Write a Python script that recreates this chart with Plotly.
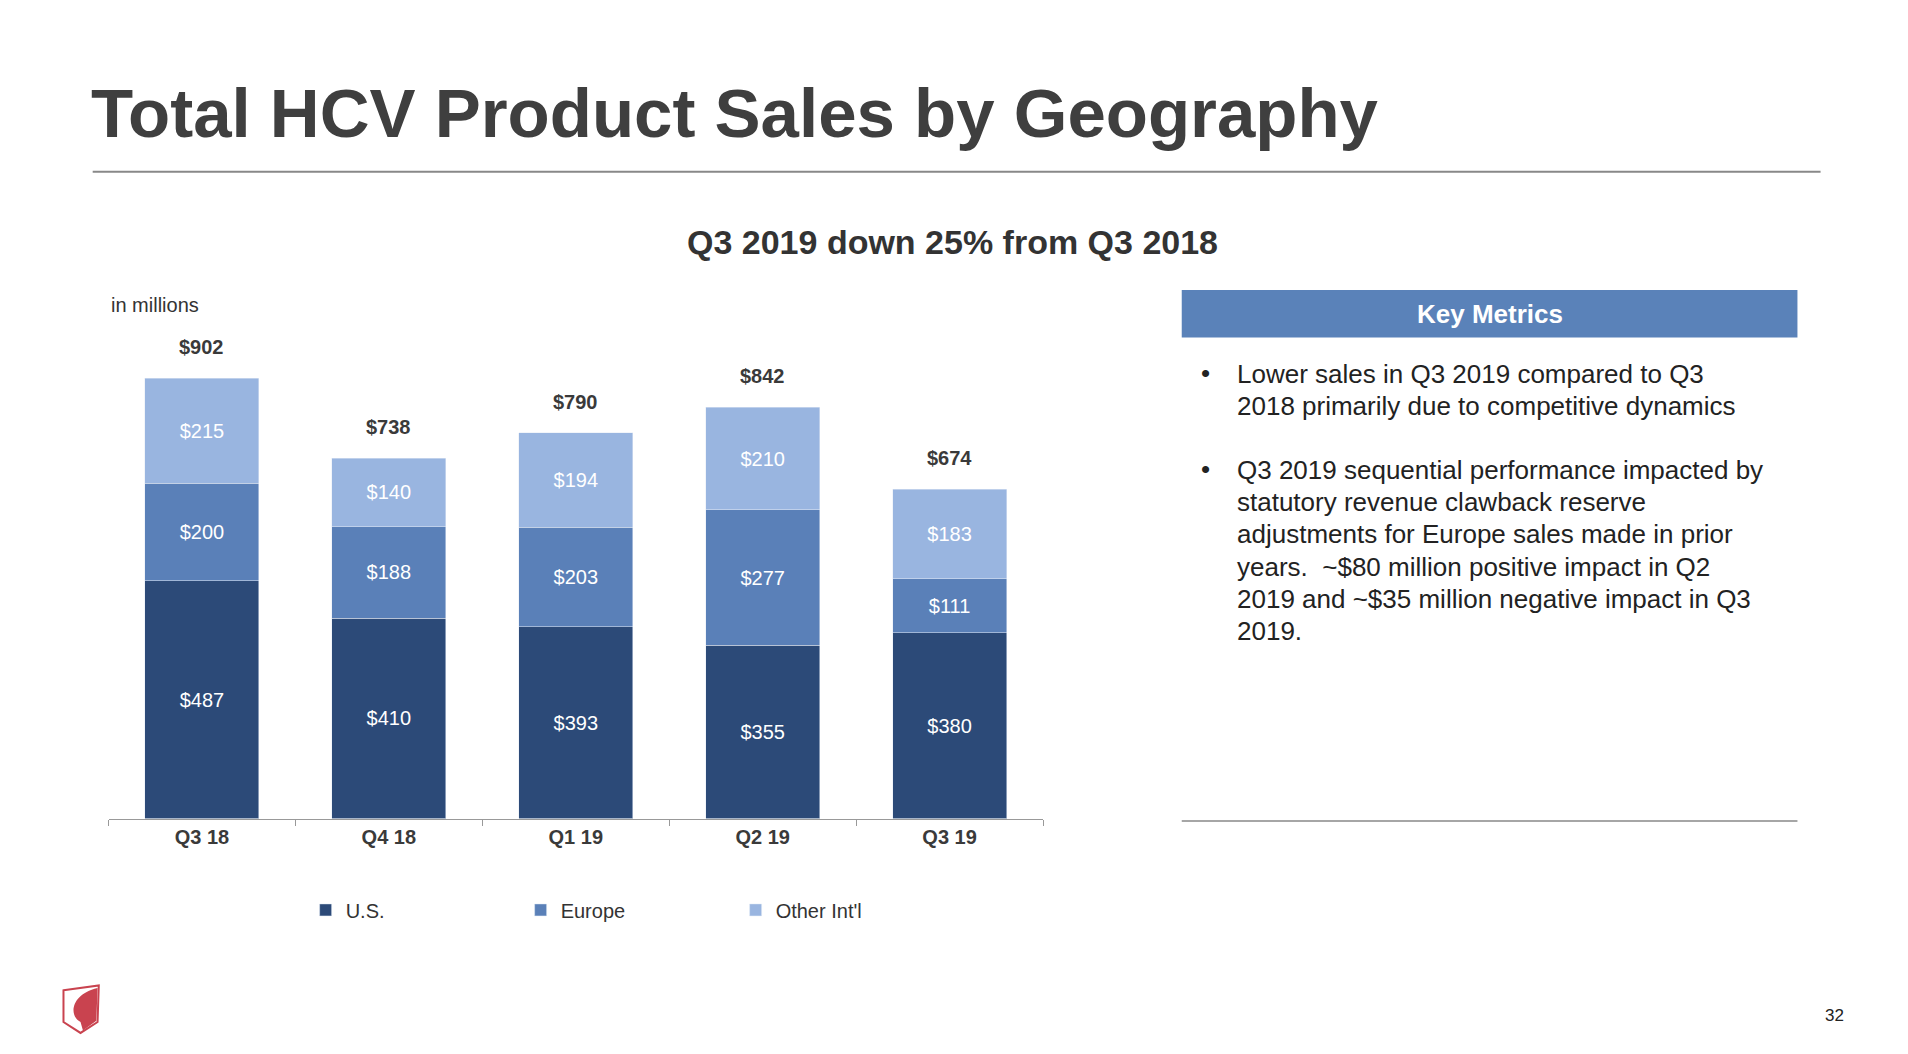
import plotly.graph_objects as go

W, H = 1908, 1054
S = 1.21  # reference-picture units to pixels
quarters = ["Q3 18", "Q4 18", "Q1 19", "Q2 19", "Q3 19"]
us = [487, 410, 393, 355, 380]
europe = [200, 188, 203, 277, 111]
other = [215, 140, 194, 210, 183]
totals = [902, 738, 790, 842, 674]
colors = {"U.S.": "#2c4a78", "Europe": "#5a80b8", "Other Int'l": "#99b5e0"}
bullet1 = ["Lower sales in Q3 2019 compared to Q3", "2018 primarily due to competitive dynamics"]
bullet2 = ["Q3 2019 sequential performance impacted by", "statutory revenue clawback reserve",
           "adjustments for Europe sales made in prior", "years.  ~$80 million positive impact in Q2",
           "2019 and ~$35 million negative impact in Q3", "2019."]

def px(x): return (x - 6.4) / 0.9944 * S / W
def py(y): return 1 - (y - 5.6) / 0.9933 * S / H

fig = go.Figure()
for name, vals in [("U.S.", us), ("Europe", europe), ("Other Int'l", other)]:
    fig.add_bar(x=quarters, y=vals, name=name, marker_color=colors[name],
                text=[f"${v}" for v in vals], textposition="inside", insidetextanchor="middle",
                textfont=dict(color="white", size=20, family="Liberation Sans"))

fig.update_layout(
    width=W, height=H, margin=dict(l=0, r=0, t=0, b=0), barmode="stack", bargap=0.39,
    plot_bgcolor="white", paper_bgcolor="white", font=dict(family="Liberation Sans", color="#333"),
    xaxis=dict(domain=[px(89), px(857)], showline=True, linecolor="#999", ticks="outside",
               ticklen=6, tickcolor="#999", tickson="boundaries",
               tickfont=dict(size=20, color="#3a3a3a"), tickprefix="<b>", ticksuffix="</b>"),
    yaxis=dict(domain=[py(671), py(230)], range=[0, 1100], visible=False),
    legend=dict(orientation="h", x=px(251), y=py(746), yanchor="middle", xanchor="left",
                font=dict(size=20), itemwidth=30, traceorder="normal", entrywidth=170),
)

shapes = [
    dict(type="line", xref="paper", yref="paper", x0=px(76), x1=px(1496), y0=py(140), y1=py(140),
         line=dict(color="#888", width=2)),
    dict(type="rect", xref="paper", yref="paper", x0=px(971), x1=px(1477), y0=py(237), y1=py(276),
         fillcolor="#5a82b9", line=dict(width=0)),
    dict(type="line", xref="paper", yref="paper", x0=px(971), x1=px(1477), y0=py(673), y1=py(673),
         line=dict(color="#888", width=1.5)),
]
fig.update_layout(shapes=shapes)

ann = [
    dict(x=px(73), y=py(92), text="<b>Total HCV Product Sales by Geography</b>", xanchor="left",
         yanchor="middle", font=dict(size=69, color="#3f3f3f")),
    dict(x=px(783), y=py(198), text="<b>Q3 2019 down 25% from Q3 2018</b>", xanchor="center",
         yanchor="middle", font=dict(size=34, color="#333")),
    dict(x=px(89), y=py(249), text="in millions", xanchor="left", yanchor="middle",
         font=dict(size=20, color="#333")),
    dict(x=px(1224), y=py(257), text="<b>Key Metrics</b>", xanchor="center", yanchor="middle",
         font=dict(size=26, color="white")),
    dict(x=px(985), y=py(305), text="•", xanchor="left", yanchor="middle", font=dict(size=26, color="#222")),
    dict(x=px(985), y=py(384), text="•", xanchor="left", yanchor="middle", font=dict(size=26, color="#222")),
    dict(x=px(1517), y=py(833), text="32", xanchor="right", yanchor="middle", font=dict(size=17, color="#222")),
]
for i, line in enumerate(bullet1):
    ann.append(dict(x=px(1015), y=py(306 + 26.5 * i), text=line, xanchor="left", yanchor="middle",
                    font=dict(size=26, color="#222")))
for i, line in enumerate(bullet2):
    ann.append(dict(x=px(1015), y=py(385 + 26.4 * i), text=line, xanchor="left", yanchor="middle",
                    font=dict(size=26, color="#222")))
for a in ann:
    a.update(xref="paper", yref="paper", showarrow=False)
for q, t in zip(quarters, totals):
    ann.append(dict(x=q, y=t, xref="x", yref="y", text=f"<b>${t}</b>", showarrow=False,
                    yanchor="bottom", yshift=18, font=dict(size=20, color="#3a3a3a")))
fig.update_layout(annotations=ann)

# logo-ish shield
fig.add_shape(type="path", xref="paper", yref="paper",
              path=f"M {px(52)} {py(812)} L {px(81)} {py(808)} L {px(80)} {py(838)} L {px(66)} {py(847)} L {px(52)} {py(838)} Z",
              fillcolor="rgba(0,0,0,0)", line=dict(color="#c9434f", width=2))
fig.add_shape(type="path", xref="paper", yref="paper",
              path=f"M {px(80)} {py(810)} C {px(58)} {py(815)} {px(56)} {py(833)} {px(66)} {py(838)} L {px(68)} {py(845)} L {px(79)} {py(837)} Z",
              fillcolor="#c9434f", line=dict(width=0))

fig.write_html("out.html")
